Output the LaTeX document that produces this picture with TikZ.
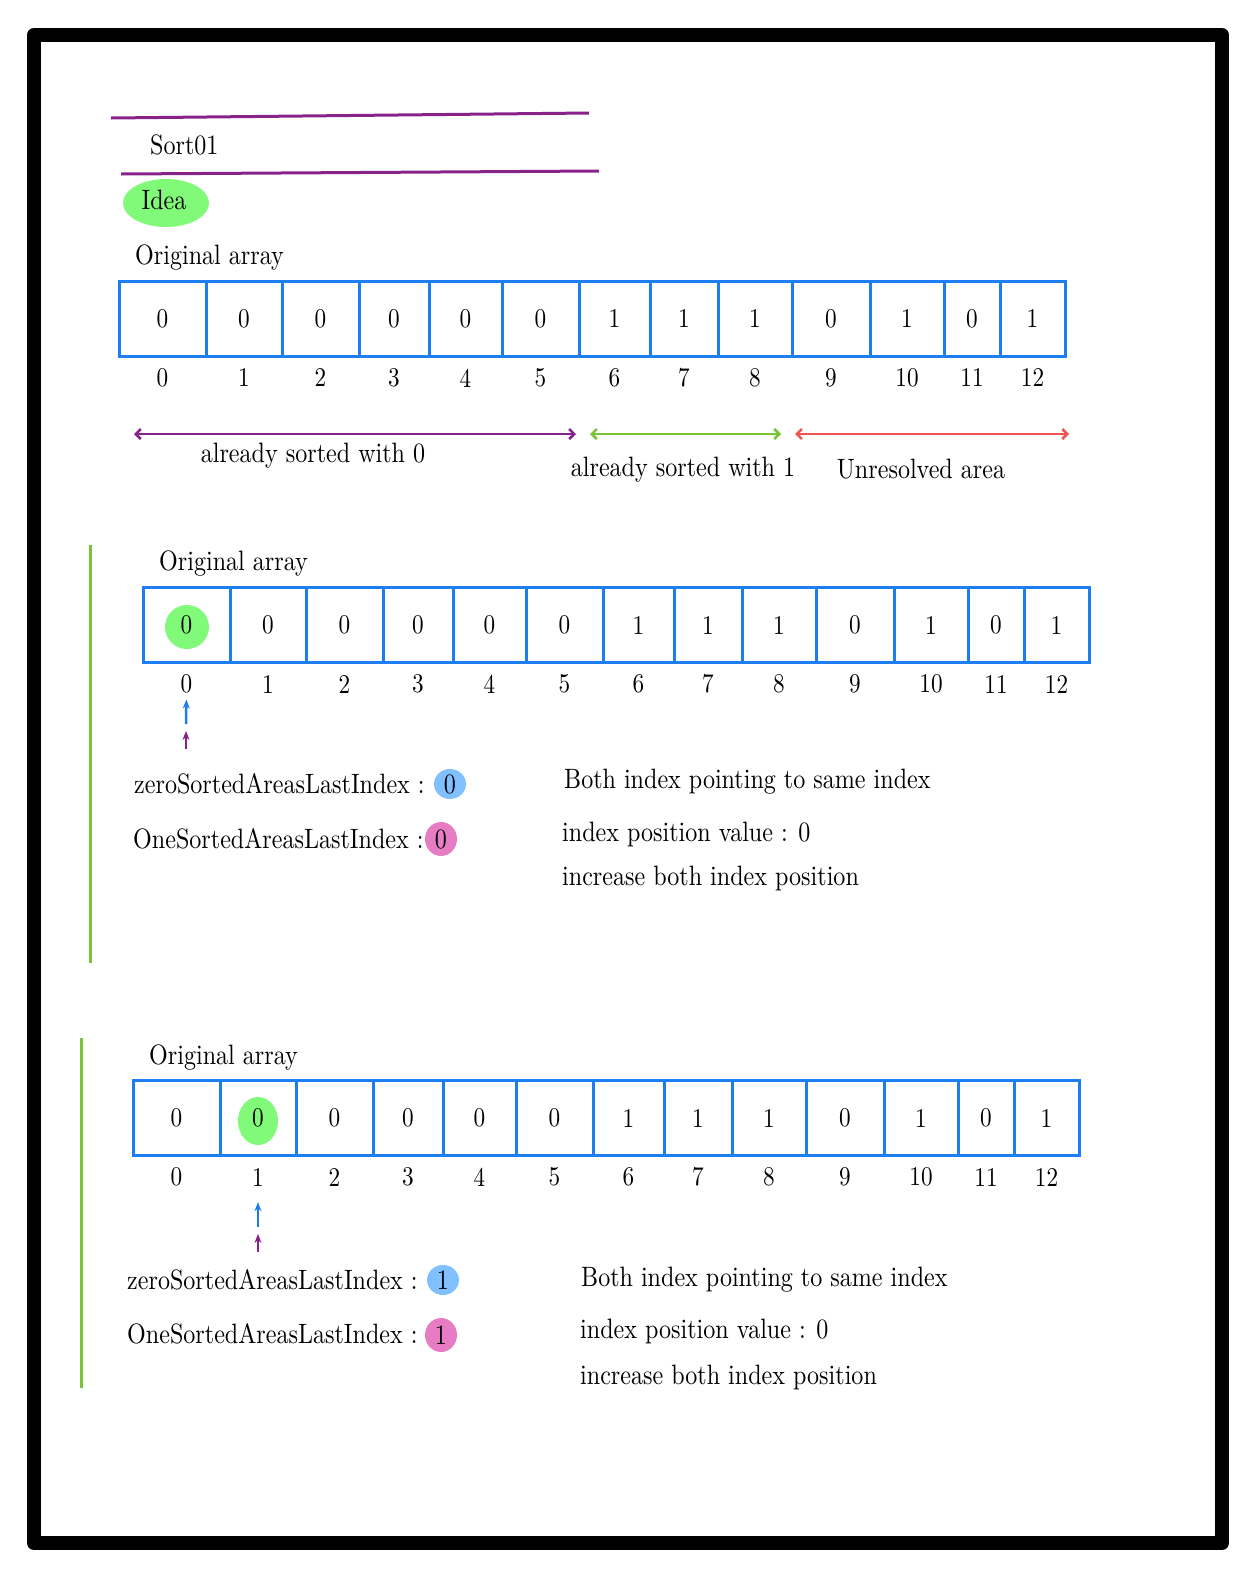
\documentclass[tikz,border=0pt]{standalone}
\usepackage{fontspec}
\setmainfont{lmroman10-regular.otf}[FakeStretch=0.86]
\usetikzlibrary{arrows.meta,shapes.geometric}

\definecolor{cellblue}{RGB}{28,126,240}
\definecolor{titlepurple}{RGB}{134,34,138}
\definecolor{arrgreen}{RGB}{122,196,56}
\definecolor{arrred}{RGB}{240,84,84}
\definecolor{hlgreen}{RGB}{128,250,120}
\definecolor{ptrblue}{RGB}{128,192,255}
\definecolor{ptrpink}{RGB}{232,124,196}

\begin{document}
\begin{tikzpicture}[x=1pt, y=-1pt,
    font=\fontsize{28}{32}\selectfont,
    cellline/.style={draw=cellblue, line width=3pt},
    digit/.style={inner sep=0pt, font=\fontsize{27}{30}\selectfont},
    txt/.style={anchor=west, inner sep=0pt},
    areaarrow/.style={line width=2.5pt, {Straight Barb[length=5pt,width=10pt]}-{Straight Barb[length=5pt,width=10pt]}},
    ptr/.style={line width=2.5pt, -{Stealth[length=9pt,width=7pt]}},
    blob/.style={ellipse, inner sep=0pt}]
    \useasboundingbox (0,0) rectangle (1259,1580);
    \draw [line width=14pt, line join=round] (34,35) rectangle (1222,1543);

    % title
    \draw [titlepurple, line width=3pt] (111,118) -- (589,113);
    \draw [titlepurple, line width=3pt] (121,174) -- (599,171);
    \node [txt] (title) at (150,145) {Sort01};
    \node [blob, fill=hlgreen, minimum width=86pt, minimum height=48pt] (ideablob) at (166,203) {};
    \node (idea) at (164,200) {Idea};

    % highlighted cells
    \node [blob, fill=hlgreen, minimum width=44pt, minimum height=44pt] (hl0) at (187,627) {};
    \node [blob, fill=hlgreen, minimum width=40pt, minimum height=48pt] (hl1) at (258,1121) {};

    % the three arrays
    \foreach \pre/\dx/\dy in {a/0/0, b/24/306, c/14/799} {
        \begin{scope}[shift={(\dx,\dy)}, name prefix=\pre-]
            \node [txt] (head) at (135,258) {Original array};
            \foreach \l/\r/\v [count=\i from 0] in {119/206/0, 206/282/0, 282/359/0, 359/429/0,
                429/502/0, 502/579/0, 579/650/1, 650/718/1, 718/792/1, 792/870/0,
                870/944/1, 944/1000/0, 1000/1065/1} {
                \draw [cellline] (\l,281) rectangle (\r,356);
                \node [digit] (c\i) at ({(\l+\r)/2},319) {\v};
                \node [digit] (i\i) at ({(\l+\r)/2},378) {\i};
            }
        \end{scope}
    }

    % areas of the first array
    \coordinate (zl) at (134,434);
    \coordinate (zr) at (576,434);
    \coordinate (ol) at (590,434);
    \coordinate (or) at (781,434);
    \coordinate (ul) at (795,434);
    \coordinate (ur) at (1069,434);
    \draw [areaarrow, titlepurple] (zl) -- (zr);
    \draw [areaarrow, arrgreen] (ol) -- (or);
    \draw [areaarrow, arrred] (ul) -- (ur);
    \node (zarea) at (313,456) {already sorted with 0};
    \node (oarea) at (683,470) {already sorted with 1};
    \node (uarea) at (921,469) {Unresolved area};

    % step 1
    \draw [arrgreen, line width=3pt] (90,545) -- (90,963);
    \coordinate (b-zp) at (186,724);
    \coordinate (b-os) at (186,749);
    \coordinate (b-ot) at (186,731);
    \draw [ptr, cellblue, shorten >=6pt] (b-zp) -- (b-i0.south);
    \draw [ptr, titlepurple] (b-os) -- (b-ot);
    \node [txt] (b-zl) at (134,784) {zeroSortedAreasLastIndex :};
    \node [blob, fill=ptrblue, minimum width=32pt, minimum height=30pt] (b-zv) at (450,784) {0};
    \node [txt] (b-ol) at (133,839) {OneSortedAreasLastIndex :};
    \node [blob, fill=ptrpink, minimum width=32pt, minimum height=34pt] (b-ov) at (441,839) {0};
    \node [txt] (b-n1) at (564,782) {Both index pointing to same index};
    \node [txt] (b-n2) at (562,834) {index position value : 0};
    \node [txt] (b-n3) at (562,878) {increase both index position};

    % step 2
    \draw [arrgreen, line width=3pt] (81,1038) -- (81,1388);
    \coordinate (c-zp) at (258,1227);
    \coordinate (c-os) at (258,1252);
    \coordinate (c-ot) at (258,1234);
    \draw [ptr, cellblue, shorten >=16pt] (c-zp) -- (c-i1.south);
    \draw [ptr, titlepurple] (c-os) -- (c-ot);
    \node [txt] (c-zl) at (127,1280) {zeroSortedAreasLastIndex :};
    \node [blob, fill=ptrblue, minimum width=32pt, minimum height=30pt] (c-zv) at (443,1280) {1};
    \node [txt] (c-ol) at (127,1334) {OneSortedAreasLastIndex :};
    \node [blob, fill=ptrpink, minimum width=32pt, minimum height=34pt] (c-ov) at (441,1335) {1};
    \node [txt] (c-n1) at (581,1280) {Both index pointing to same index};
    \node [txt] (c-n2) at (580,1331) {index position value : 0};
    \node [txt] (c-n3) at (580,1377) {increase both index position};
\end{tikzpicture}
\end{document}
